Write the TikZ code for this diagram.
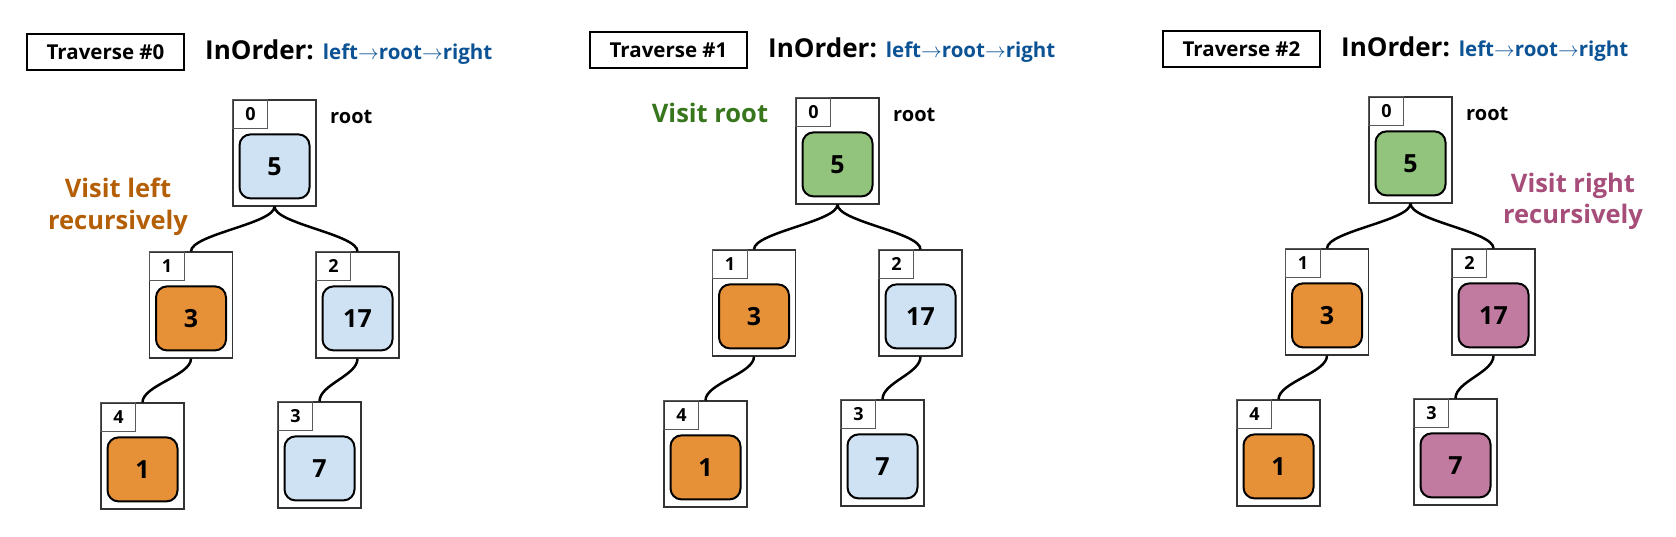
\documentclass[tikz,border=0pt]{standalone}
\usepackage{fontspec}
\setmainfont{Open Sans}
\usetikzlibrary{calc}
\definecolor{cblue}{HTML}{CFE2F3}
\definecolor{corange}{HTML}{E69138}
\definecolor{cgreen}{HTML}{93C47D}
\definecolor{cpink}{HTML}{C27BA0}
\definecolor{tbrown}{HTML}{B45F06}
\definecolor{tgreen}{HTML}{38761D}
\definecolor{tmagenta}{HTML}{A64D79}
\definecolor{tblue}{HTML}{0B5394}
\newcommand\tnode[6]{%
  \node[outerbox] (#1) at (#2,#3+53) {};
  \node[idxbox, anchor=north west] (#1i) at (#1.north west) {#4};
  \node[valbox, fill=#6] (#1v) at ($(#1.north)+(0,67)$) {#5};
}
\newcommand\tlink[2]{%
  \draw[conn] (#1.south) .. controls ($(#1.south)+(0,17)$) and ($(#2.north)+(0,-17)$) .. (#2.north);
}
\newcommand\tpanel[7]{% prefix, title, c0, c1, c2, c4, c3
  \node[travbox] (#1t) at (105.5,52) {Traverse #2};
  \node[anchor=base west, inner sep=0pt] (#1o) at (205,59)
    {\fontsize{26}{30}\selectfont\bfseries InOrder: \color{tblue}\fontsize{20.5}{24}\selectfont left$\rightarrow$root$\rightarrow$right};
  \tnode{#1n0}{274.5}{100}{0}{5}{#3}
  \tnode{#1n1}{191}{252}{1}{3}{#4}
  \tnode{#1n2}{357.5}{252}{2}{17}{#5}
  \tnode{#1n4}{142.5}{403}{4}{1}{#6}
  \tnode{#1n3}{319.5}{402}{3}{7}{#7}
  \node[anchor=base west, inner sep=0pt, font=\fontsize{20}{24}\selectfont\bfseries] (#1r) at (330,123) {root};
  \tlink{#1n0}{#1n1}
  \tlink{#1n0}{#1n2}
  \tlink{#1n1}{#1n4}
  \tlink{#1n2}{#1n3}
}
\begin{document}
\begin{tikzpicture}[x=1pt,y=-1pt,
  outerbox/.style={draw=black!80, line width=1.2pt, minimum width=83pt, minimum height=106pt, inner sep=0pt},
  idxbox/.style={draw=black!65, line width=1pt, minimum width=35pt, minimum height=29pt, inner sep=0pt, font=\fontsize{18}{20}\selectfont\bfseries},
  valbox/.style={draw=black, line width=2pt, rounded corners=11pt, minimum width=70pt, minimum height=64pt, inner sep=0pt, font=\fontsize{25}{28}\selectfont\bfseries},
  travbox/.style={draw=black, line width=1.8pt, minimum width=157pt, minimum height=36pt, inner sep=0pt, font=\fontsize{20.5}{24}\selectfont\bfseries},
  conn/.style={draw=black, line width=2.5pt},
  visit/.style={anchor=base, inner sep=0pt, font=\fontsize{25.5}{30}\selectfont\bfseries}]
\useasboundingbox (0,0) rectangle (1676,536);
\begin{scope}
  \tpanel{a}{\#0}{cblue}{corange}{cblue}{corange}{cblue}
  \node[visit, text=tbrown] (av1) at (118,197) {Visit left};
  \node[visit, text=tbrown] (av2) at (118,229) {recursively};
\end{scope}
\begin{scope}[shift={(563,-2)}]
  \tpanel{b}{\#1}{cgreen}{corange}{cblue}{corange}{cblue}
  \node[visit, text=tgreen] (bv1) at (147,124) {Visit root};
\end{scope}
\begin{scope}[shift={(1136,-3)}]
  \tpanel{c}{\#2}{cgreen}{corange}{cpink}{corange}{cpink}
  \node[visit, text=tmagenta] (cv1) at (437,195) {Visit right};
  \node[visit, text=tmagenta] (cv2) at (437,226) {recursively};
\end{scope}
\end{tikzpicture}
\end{document}
